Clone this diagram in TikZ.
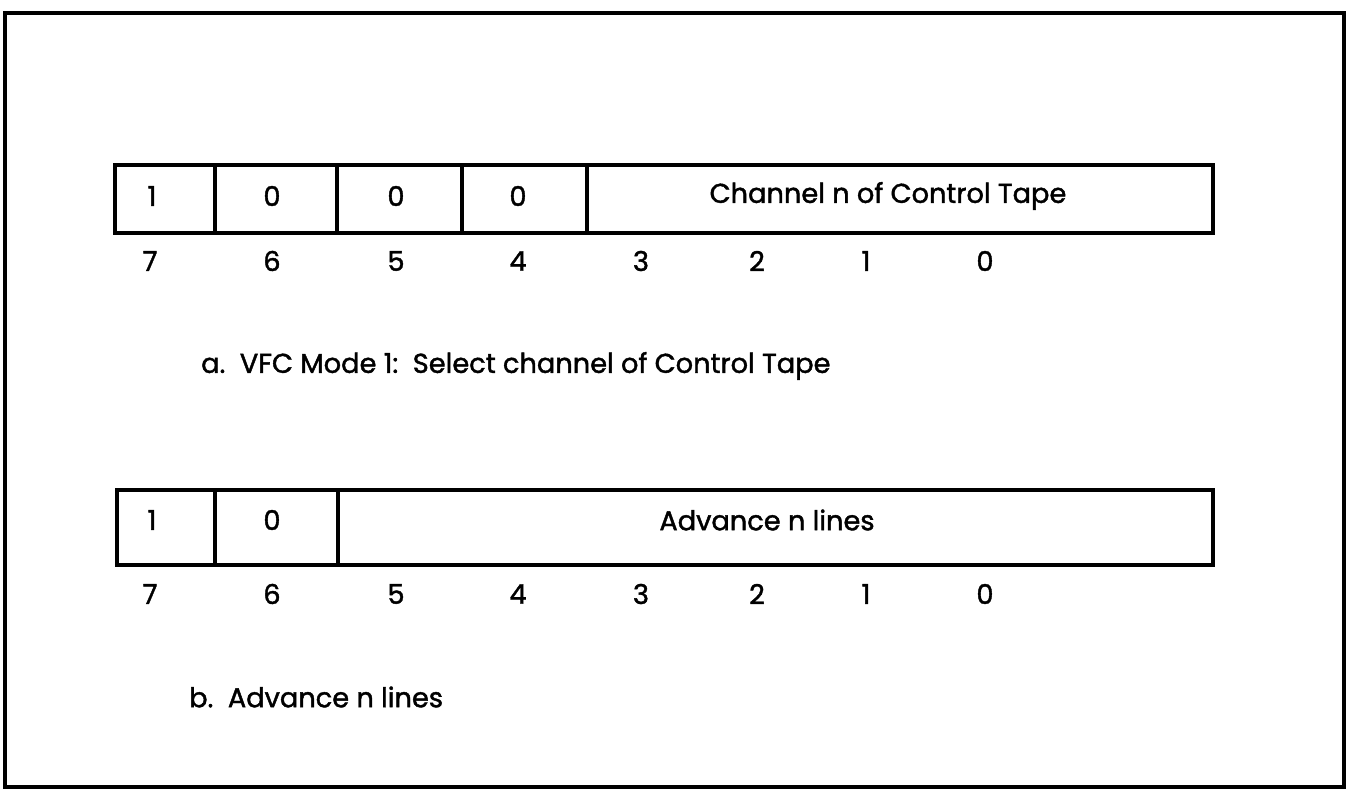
\documentclass[tikz,border=0pt]{standalone}
\usepackage{fontspec}
\setmainfont{Poppins}[FakeBold=1.5]
\usetikzlibrary{positioning,fit}

\begin{document}
\begin{tikzpicture}[
    x=0.02cm, y=-0.02cm,
    every node/.style={font=\fontsize{15.5}{18}\selectfont},
    cell/.style={draw, line width=2.3pt, inner sep=0pt, outer sep=0pt},
    frame/.style={line width=2.2pt}
]
\useasboundingbox (0,0) rectangle (1347,790);

% Outer frame
\draw[frame] (5,13) rectangle (1344,787);

% a. VFC mode 1 byte
\foreach \l/\r/\n in {115/215/7, 215/337/6, 337/462/5, 462/587/4, 587/1213/30}
    \node[cell, fit={(\l,165) (\r,233)}] (a\n) {};
\node (av7) at (152,196) {1};
\node (av6) at (272,196) {0};
\node (av5) at (396,196) {0};
\node (av4) at (518,196) {0};
\node (av30) at (888,196) {Channel n of Control Tape};
\foreach \x/\b in {150/7, 272/6, 396/5, 518/4, 641/3, 757/2, 866/1, 985/0}
    \node (abit\b) at (\x,261) {\b};
\node[anchor=west] (acap) at (195,366) {a.\ \ VFC Mode 1:\ \ Select channel of Control Tape};

% b. advance n lines byte
\foreach \l/\r/\n in {117/215/7, 215/338/6, 338/1213/50}
    \node[cell, fit={(\l,490) (\r,565)}] (b\n) {};
\node (bv7) at (152,520) {1};
\node (bv6) at (272,520) {0};
\node (bv50) at (767,520) {Advance n lines};
\foreach \x/\b in {150/7, 272/6, 396/5, 518/4, 641/3, 757/2, 866/1, 985/0}
    \node (bbit\b) at (\x,594) {\b};
\node[anchor=west] (bcap) at (183,697) {b.\ \ Advance n lines};
\end{tikzpicture}
\end{document}
